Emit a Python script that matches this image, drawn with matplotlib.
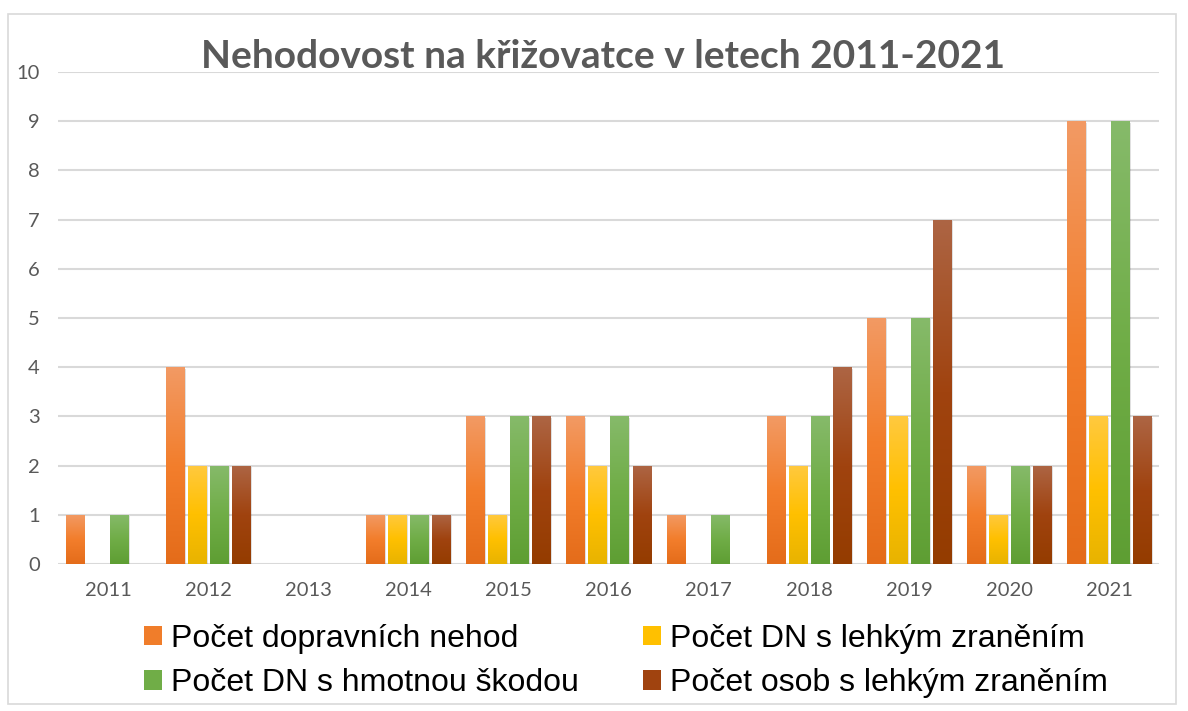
import numpy as np
import matplotlib.pyplot as plt
from matplotlib.colors import LinearSegmentedColormap
from matplotlib.patches import Rectangle

years = ['2011', '2012', '2013', '2014', '2015', '2016', '2017', '2018', '2019', '2020', '2021']
nehody = [1, 4, 0, 1, 3, 3, 1, 3, 5, 2, 9]
dn_lehke = [0, 2, 0, 1, 1, 2, 0, 2, 3, 1, 3]
dn_skoda = [1, 2, 0, 1, 3, 3, 1, 3, 5, 2, 9]
osoby_lehke = [0, 2, 0, 1, 3, 2, 0, 4, 7, 2, 3]

labels = ['Počet dopravních nehod', 'Počet DN s lehkým zraněním',
          'Počet DN s hmotnou škodou', 'Počet osob s lehkým zraněním']
series = [nehody, dn_lehke, dn_skoda, osoby_lehke]
# (top, middle, bottom) gradient colours like Excel
grads = [('#f29a64', '#f37e2c', '#e46c1a'),
         ('#ffc93f', '#ffc000', '#e8b300'),
         ('#86ba6a', '#70ad47', '#5e9e33'),
         ('#ad6544', '#a0430f', '#943c00')]
solid = ['#f07d2a', '#ffc000', '#70ad47', '#a0430f']


def main():
    fig = plt.figure(figsize=(11.88, 7.11), dpi=100)
    ax = fig.add_axes([0.0488, 0.2068, 0.9272, 0.692])

    x = np.arange(len(years))
    width = 0.185
    step = 0.22
    grad = np.linspace(0, 1, 256).reshape(-1, 1)

    for i, (vals, g) in enumerate(zip(series, grads)):
        cmap = LinearSegmentedColormap.from_list('g%d' % i, [g[2], g[1], g[0]])
        offs = (i - 1.5) * step
        for xi, v in zip(x, vals):
            if v <= 0:
                continue
            x0 = xi + offs - width / 2
            # soft shadow
            ax.add_patch(Rectangle((x0 + 0.012, -0.03), width, v, facecolor='#000000',
                                   alpha=0.12, edgecolor='none', zorder=2))
            im = ax.imshow(grad, cmap=cmap, origin='lower', aspect='auto',
                           extent=(x0, x0 + width, 0, v), zorder=3)
            r = Rectangle((x0, 0), width, v, facecolor='none', edgecolor='none', zorder=3)
            ax.add_patch(r)
            im.set_clip_path(r)

    ax.set_xlim(-0.5, len(years) - 0.5)
    ax.set_ylim(0, 10)
    ax.set_yticks(range(0, 11))
    ax.set_xticks(x)
    ax.set_xticklabels(years)
    ax.grid(axis='y', color='#d9d9d9', linewidth=1.5, zorder=0)
    ax.set_axisbelow(True)
    for s in ax.spines.values():
        s.set_visible(False)
    ax.tick_params(length=0, labelsize=14.5, labelcolor='#595959')
    ax.tick_params(axis='y', pad=13)
    ax.tick_params(axis='x', pad=13)
    for t in ax.get_xticklabels() + ax.get_yticklabels():
        t.set_fontfamily('Lato')

    fig.text(0.5076, 0.92, 'Nehodovost na křižovatce v letech 2011-2021', ha='center', va='center',
             fontsize=28, fontweight='bold', color='#595959', fontfamily='Lato')

    # legend filled row-wise like Excel
    order = [0, 2, 1, 3]
    handles = [Rectangle((0, 0), 1, 1, facecolor=solid[k], edgecolor='none') for k in order]
    fig.legend(handles, [labels[k] for k in order], ncol=2, loc='center',
               bbox_to_anchor=(0.527, 0.07),
               frameon=False, prop={'family': 'Liberation Sans', 'size': 23},
               handlelength=0.55, handleheight=0.55, handletextpad=0.3,
               columnspacing=2.0, labelspacing=0.45)

    fig.patches.append(Rectangle((8 / 1188, 7 / 711), 1168 / 1188, 690 / 711,
                                 transform=fig.transFigure, fill=False,
                                 edgecolor='#d9d9d9', linewidth=1.2))

    plt.savefig('out.png', dpi=100)


main()
